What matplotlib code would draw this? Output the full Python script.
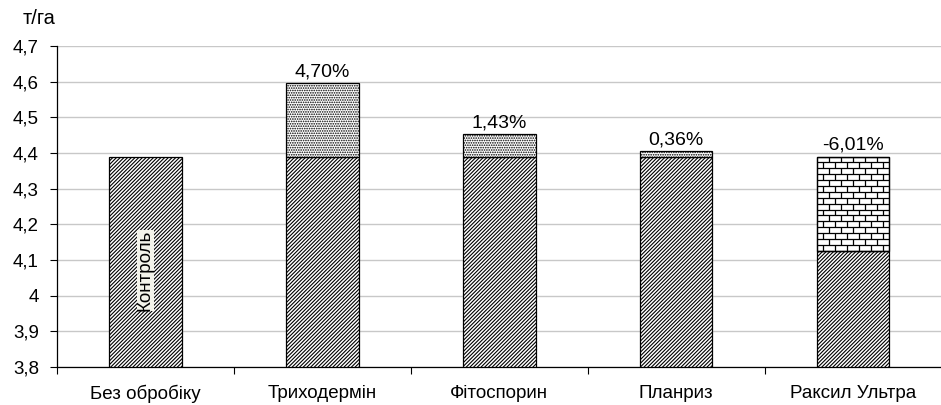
import matplotlib
matplotlib.use("Agg")
import matplotlib.pyplot as plt
from matplotlib.ticker import FuncFormatter, FixedLocator
from matplotlib.collections import LineCollection

plt.rcParams['font.family'] = ['Liberation Sans', 'DejaVu Sans']
plt.rcParams['hatch.linewidth'] = 0.8

# Yield, t/ha
categories = ["Без обробіку", "Триходермін", "Фітоспорин", "Планриз", "Раксил Ультра"]
control_yield = 4.39
change_pct = [None, 4.70, 1.43, 0.36, -6.01]   # change relative to control, %
control_label = "Контроль"
y_unit = "т/га"

fig = plt.figure(figsize=(9.41, 4.05), dpi=100)
ax = fig.add_axes([0.0606, 0.0938, 0.94, 0.7926])

x = list(range(len(categories)))
width = 0.41
diag = '/' * 9

for i, pct in enumerate(change_pct):
    if pct is None:
        ax.bar(i, control_yield - 3.8, bottom=3.8, width=width, facecolor='white',
               edgecolor='black', hatch=diag, linewidth=0.9, zorder=3)
        continue
    value = control_yield * (1 + pct / 100.0)
    if pct >= 0:
        ax.bar(i, control_yield - 3.8, bottom=3.8, width=width, facecolor='white',
               edgecolor='black', hatch=diag, linewidth=0.9, zorder=3)
        ax.bar(i, value - control_yield, bottom=control_yield, width=width,
               facecolor='white', edgecolor='black', hatch='.......', linewidth=0.9, zorder=3)
    else:
        ax.bar(i, value - 3.8, bottom=3.8, width=width, facecolor='white',
               edgecolor='black', hatch=diag, linewidth=0.9, zorder=3)
        top = ax.bar(i, control_yield - value, bottom=value, width=width,
                     facecolor='white', edgecolor='black', linewidth=0.9, zorder=3)[0]
        # brick texture for the loss segment
        x0, x1 = i - width / 2, i + width / 2
        row_h = 0.0165
        n_rows = int((control_yield - value) / row_h) + 2
        n_cols = 6
        brick_w = width / n_cols
        segs = []
        for r in range(n_rows):
            yb = control_yield - r * row_h
            segs.append([(x0, yb), (x1, yb)])
            shift = 0 if r % 2 == 0 else brick_w / 2
            for c in range(-1, n_cols + 1):
                xv = x0 + shift + c * brick_w
                if x0 < xv < x1:
                    segs.append([(xv, yb), (xv, yb - row_h)])
        lc = LineCollection(segs, colors='black', linewidths=0.9, zorder=4)
        ax.add_collection(lc)
        lc.set_clip_path(top)
        ax.bar(i, control_yield - value, bottom=value, width=width,
               facecolor='none', edgecolor='black', linewidth=0.9, zorder=5)
    label_y = max(value, control_yield)
    ax.annotate(f"{pct:.2f}%".replace('.', ','), (i, label_y), xytext=(0, 2),
                textcoords='offset points', ha='center', va='bottom', fontsize=14)

ax.text(0, 4.07, control_label, rotation=90, ha='center', va='center', fontsize=13.5,
        zorder=6, bbox=dict(facecolor='#f3f3ea', edgecolor='none', pad=0.0))

ax.set_ylim(3.8, 4.7)
ax.set_xlim(-0.5, len(categories) - 0.5)
yt = [3.8 + 0.1 * k for k in range(10)]
ax.set_yticks(yt)
ax.yaxis.set_major_formatter(FuncFormatter(
    lambda v, p: (f"{v:.1f}".rstrip('0').rstrip('.') if abs(v - 4) < 1e-6 else f"{v:.1f}").replace('.', ',')))
ax.tick_params(axis='y', labelsize=13.5, length=5, width=0.8, direction='out', pad=8)
ax.grid(axis='y', color='#c8c8c8', linewidth=1, zorder=0)
ax.set_axisbelow(True)

ax.xaxis.set_major_locator(FixedLocator([k + 0.5 for k in range(-1, len(categories))]))
ax.set_xticklabels([])
ax.xaxis.set_minor_locator(FixedLocator(x))
ax.set_xticklabels(categories, minor=True, fontsize=13.5)
ax.tick_params(axis='x', which='major', length=5, width=0.8)
ax.tick_params(axis='x', which='minor', length=0, pad=13)

for s in ['top', 'right']:
    ax.spines[s].set_visible(False)
for s in ['left', 'bottom']:
    ax.spines[s].set_linewidth(0.9)

fig.text(0.024, 0.932, y_unit, fontsize=14.5, ha='left', va='bottom')

fig.savefig("out.png", dpi=100)
